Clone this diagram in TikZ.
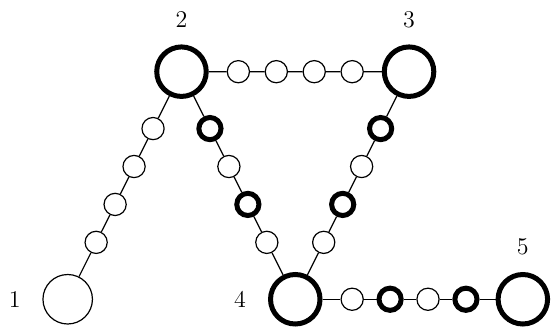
\documentclass[tikz,border=0pt]{standalone}
\usepackage{amsmath}
\usepackage{tikz}
\usetikzlibrary{calc}

\begin{document}
\begin{tikzpicture}[
    big/.style={circle,draw,line width=0.6pt,minimum size=0.87cm,inner sep=0pt},
    bigb/.style={big,line width=2.5pt},
    bead/.style={circle,draw,line width=0.6pt,minimum size=0.39cm,inner sep=0pt},
    beadb/.style={bead,line width=2.5pt},
    link/.style={line width=0.6pt},
    num/.style={font=\large}]
    \useasboundingbox (-1.19,-0.522) rectangle (8.53,5.26);
    % big nodes
    \node[big]  (n1) at (0,0) {};
    \node[bigb] (n2) at (2,4) {};
    \node[bigb] (n3) at (6,4) {};
    \node[bigb] (n4) at (4,0) {};
    \node[bigb] (n5) at (8,0) {};
    % numbers
    \node[num] (t1) at (-0.93,0) {1};
    \node[num] (t2) at (2,4.91) {2};
    \node[num] (t3) at (6,4.91) {3};
    \node[num] (t4) at (3.03,0) {4};
    \node[num] (t5) at (8,0.92) {5};
    % beads on the edges
    \foreach \u/\v/\p/\q in {n2/n1/bead/bead,n2/n3/bead/bead,n2/n4/beadb/bead,n3/n4/beadb/bead,n4/n5/bead/beadb} {
      \node[\p] (\u\v-1) at ($(\u)!0.25!(\v)$) {};
      \node[\q] (\u\v-2) at ($(\u)!0.4167!(\v)$) {};
      \node[\p] (\u\v-3) at ($(\u)!0.5833!(\v)$) {};
      \node[\q] (\u\v-4) at ($(\u)!0.75!(\v)$) {};
      \draw[link] (\u) -- (\u\v-1) -- (\u\v-2) -- (\u\v-3) -- (\u\v-4) -- (\v);
    }
\end{tikzpicture}
\end{document}
